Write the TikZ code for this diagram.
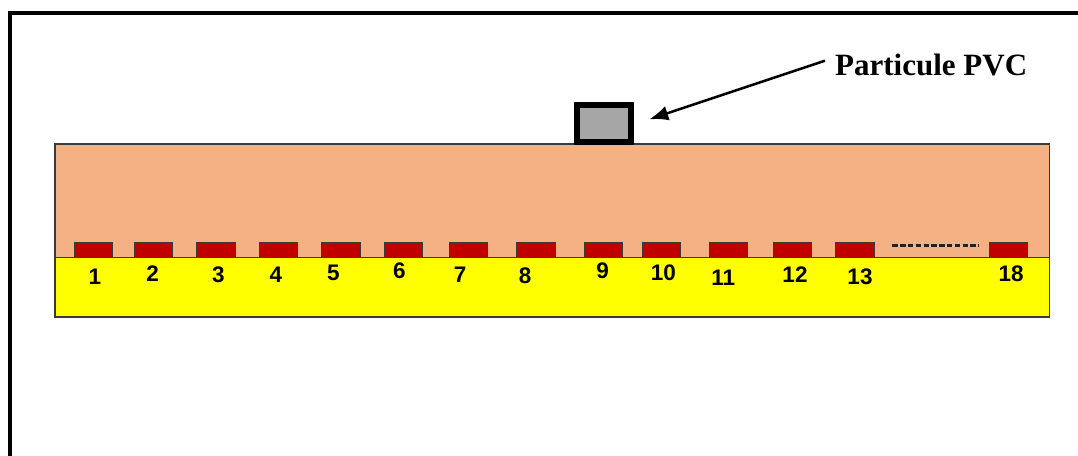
\documentclass[tikz,border=0pt]{standalone}
\usepackage{fontspec}
\setmainfont{Liberation Serif}
\newfontfamily\arialfont{Liberation Sans}
\usetikzlibrary{arrows.meta}
\definecolor{cuorange}{HTML}{F4B183}
\definecolor{padred}{HTML}{C00000}
\definecolor{pvcgray}{HTML}{A6A6A6}
\definecolor{edgegray}{HTML}{3A3A3A}
\definecolor{dashgray}{HTML}{222222}
\definecolor{pureyellow}{HTML}{FFFF00}
\tikzset{
  pad/.style={draw=edgegray, line width=1pt, fill=padred, minimum width=38.5pt, minimum height=15pt, inner sep=0pt, outer sep=0pt},
  num/.style={font=\arialfont\bfseries\fontsize{22.5}{26}\selectfont, inner sep=0pt},
  layer/.style={draw=edgegray, line width=1.2pt},
}
\begin{document}
\begin{tikzpicture}[x=1pt,y=-1pt]
\useasboundingbox (0,0) rectangle (1078,455);
\fill[white] (0,0) rectangle (1078,455);
% frame
\draw[line width=4.5pt, black] (10,456) -- (10,13) -- (1079,13);
% layers
\draw[layer, fill=cuorange] (55,144) rectangle (1049.5,257.7);
\draw[layer, fill=pureyellow] (55,257.7) rectangle (1049.5,317);
% pads
\foreach \i/\x in {1/93.5,2/153.3,3/215.8,4/278.3,5/340.8,6/403.3,7/468.6,8/535.8,9/603.3,10/661.3,11/728.3,12/792.6,13/855}
  \node[pad] (p\i) at (\x,250.2) {};
\node[pad] (p18) at (1008.6,250.2) {};
\draw[dash pattern=on 5.5pt off 2.3pt, line width=3pt, dashgray] (892.3,245) coordinate (d1) -- (978.3,245) coordinate (d2);
% numbers
\node[num] (n1) at (95,276.7) {1};
\node[num] (n2) at (152.7,273.3) {2};
\node[num] (n3) at (218.3,274.3) {3};
\node[num] (n4) at (276,275) {4};
\node[num] (n5) at (333.3,273.3) {5};
\node[num] (n6) at (399.3,271) {6};
\node[num] (n7) at (460,275) {7};
\node[num] (n8) at (525,276) {8};
\node[num] (n9) at (602.7,271) {9};
\node[num] (n10) at (663.3,272.7) {10};
\node[num] (n11) at (723.3,277.3) {11};
\node[num] (n12) at (795,275) {12};
\node[num] (n13) at (860,276.7) {13};
\node[num] (n18) at (1011,274) {18};
% particle
\node[draw=black, line width=6pt, fill=pvcgray, minimum width=54pt, minimum height=36.7pt, inner sep=0pt, outer sep=0pt] (pvc) at (604,123.6) {};
% label
\node[font=\bfseries\fontsize{31}{34}\selectfont, anchor=west, inner sep=0pt] (lbl) at (835,65) {Particule PVC};
\coordinate (tip) at (649.3,119.3);
\draw[line width=2.5pt, -{Latex[length=19pt,width=15pt]}] ([xshift=-10pt,yshift=4.3pt]lbl.west) -- (tip);
\end{tikzpicture}
\end{document}
